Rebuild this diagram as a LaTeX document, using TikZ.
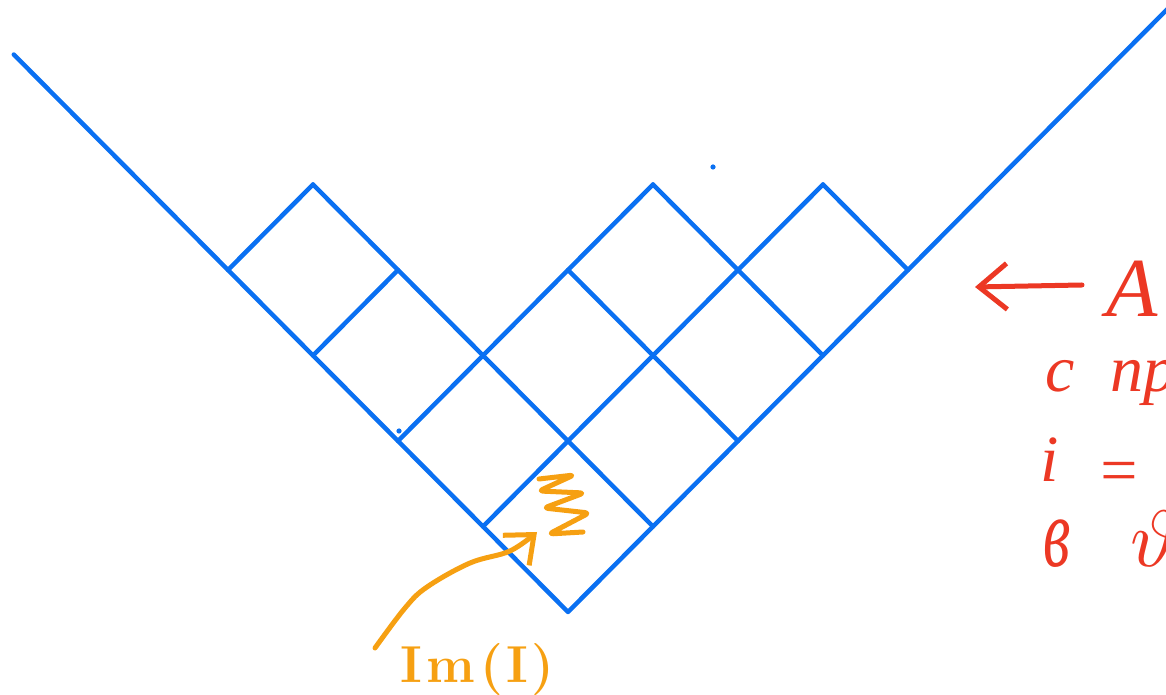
\documentclass[tikz,border=0pt]{standalone}
\usepackage{fontspec}
\usetikzlibrary{arrows.meta}
\newfontfamily\hwfont{Liberation Serif}
\definecolor{dblue}{RGB}{10,112,242}
\definecolor{dred}{RGB}{236,56,36}
\definecolor{dorange}{RGB}{246,160,18}
\begin{document}
\begin{tikzpicture}[x=1pt,y=1pt,
  gridline/.style={draw=dblue,line width=4.5pt,line cap=round,line join=round},
  redline/.style={draw=dred,line width=5pt,line cap=round,line join=round},
  orangeline/.style={draw=dorange,line width=5pt,line cap=round,line join=round},
  redtxt/.style={text=dred,inner sep=0pt,anchor=base west,font=\hwfont\itshape\fontsize{66}{70}\selectfont},
  oratxt/.style={text=dorange,inner sep=0pt,anchor=base west,font=\bfseries\fontsize{52}{60}\selectfont}]
\useasboundingbox (0,0) rectangle (1166,695);
\clip (0,0) rectangle (1166,695);
% Young diagram in Russian convention
\begin{scope}[shift={(568,83)}, x={(85pt,85.5pt)}, y={(-85pt,85.5pt)}]
  \draw[gridline] (0,6.52) -- (0,0) -- (7.3,0);
  \draw[gridline] (1,0) -- (1,4);
  \draw[gridline] (2,0) -- (2,2);
  \draw[gridline] (3,0) -- (3,2);
  \draw[gridline] (4,0) -- (4,1);
  \draw[gridline] (0,1) -- (4,1);
  \draw[gridline] (0,2) -- (3,2);
  \draw[gridline] (0,3) -- (1,3);
  \draw[gridline] (0,4) -- (1,4);
\end{scope}
\fill[dblue] (399,264) circle (2.6);
\fill[dblue] (713,528) circle (2.6);
% orange scribble and arrow
\draw[orangeline,rounded corners=4pt] (539,216) -- (574,220) -- (539,204) -- (584,202) -- (544,187) -- (589,182) -- (549,161) -- (583,163);
\node[oratxt] (im) at (400,12) {I\kern5pt m\kern5pt(\kern3pt I\kern3pt)};
\coordinate (ostart) at (375,47);
\coordinate (otip) at (537,163);
\draw[orangeline,-{Straight Barb[length=24pt,width=40pt]}] plot[smooth,tension=0.6] coordinates {(ostart) (405,87) (427,108) (470,132) (510,144) (otip)};
% red annotations
\coordinate (atail) at (1082,410);
\coordinate (atip) at (975,408);
\draw[redline,-{Straight Barb[length=28pt,width=46pt]}] (atail) -- (atip);
\node[redtxt,font=\hwfont\itshape\fontsize{84}{90}\selectfont] (A) at (1106,378) {A};
\node[redtxt] (c) at (1045,303) {с};
\node[redtxt] (pr) at (1110,303) {пр};
\node[redtxt] (i) at (1040,213) {i};
\node[redtxt] (eq) at (1096,202) {=};
\node[redtxt] (v) at (1043,128) {\scalebox{0.95}[1.5]{в}};
\node[redtxt,font=\normalsize] (th) at (1130,128) {\scalebox{8}{$\vartheta$}};
\end{tikzpicture}
\end{document}
